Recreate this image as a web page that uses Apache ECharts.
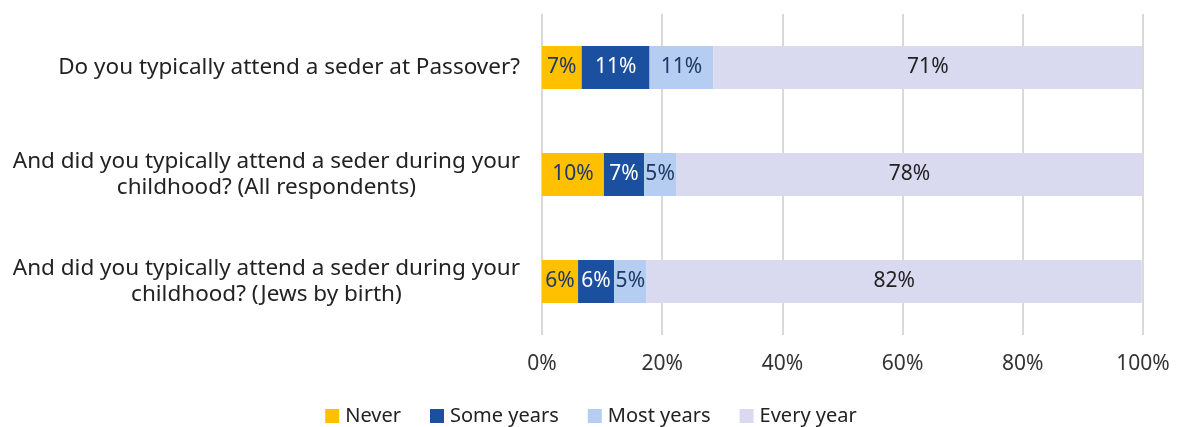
<!DOCTYPE html>
<html>
<head>
<meta charset="utf-8">
<script src="https://cdn.jsdelivr.net/npm/echarts@6/dist/echarts.min.js"></script>
<style>
  html, body { margin: 0; padding: 0; background: #fff; }
  #chart { width: 1182px; height: 427px; }
</style>
</head>
<body>
<div id="chart"></div>
<script>
// Survey questions (top to bottom)
const questions = [
  'Do you typically attend a seder at Passover?',
  'And did you typically attend a seder during your\nchildhood? (All respondents)',
  'And did you typically attend a seder during your\nchildhood? (Jews by birth)'
];

// Share of respondents per answer, percent
const never      = [6.6, 10.3, 6.0];
const someYears  = [11.3, 6.7, 6.0];
const mostYears  = [10.6, 5.3, 5.4];
const everyYear  = [71.4, 77.7, 82.4];

const seriesNames = ['Never', 'Some years', 'Most years', 'Every year'];
const seriesColors = ['#FFC000', '#1B4F9F', '#B4CDF0', '#D9DAEF'];
const labelColors = ['#1F3864', '#FFFFFF', '#1F3864', '#222222'];
const xTicks = [0, 20, 40, 60, 80, 100];

const FONT = '"Noto Sans", sans-serif';
const values = [never, someYears, mostYears, everyYear];

const chart = echarts.init(document.getElementById('chart'), null, { renderer: 'canvas' });

chart.setOption({
  animation: false,
  backgroundColor: '#ffffff',
  textStyle: { fontFamily: FONT },
  grid: { left: 542, right: 39, top: 14, bottom: 92, containLabel: false },
  legend: {
    data: seriesNames,
    top: 401,
    left: 'center',
    itemWidth: 14,
    itemHeight: 14,
    itemGap: 29,
    icon: 'rect',
    textStyle: { fontFamily: FONT, fontSize: 20, color: '#222', padding: [0, 0, 0, 1] }
  },
  xAxis: {
    type: 'value',
    min: xTicks[0],
    max: xTicks[xTicks.length - 1],
    interval: 20,
    axisLine: { show: false },
    axisTick: { show: false },
    splitLine: { show: true, lineStyle: { color: '#d9d9d9', width: 2 } },
    axisLabel: {
      formatter: v => v + '%',
      fontFamily: FONT,
      fontSize: 21,
      color: '#333',
      margin: 19
    }
  },
  yAxis: {
    type: 'category',
    inverse: true,
    data: questions,
    axisLine: { show: false },
    axisTick: { show: false },
    axisLabel: {
      margin: 22,
      fontFamily: FONT,
      fontSize: 22.5,
      color: '#222',
      lineHeight: 26,
      formatter: v => v.split('\n').map(s => '{c|' + s + '}').join('\n'),
      rich: {
        c: { align: 'center', fontFamily: FONT, fontSize: 22.5, color: '#222', lineHeight: 26 }
      }
    }
  },
  series: seriesNames.map((name, i) => ({
    name,
    type: 'bar',
    stack: 'total',
    barWidth: '40%',
    data: values[i],
    itemStyle: { color: seriesColors[i] },
    label: {
      show: true,
      position: 'inside',
      formatter: p => Math.round(p.value) + '%',
      fontFamily: FONT,
      fontSize: 21,
      color: labelColors[i]
    },
    emphasis: { disabled: true }
  }))
});
</script>
</body>
</html>
